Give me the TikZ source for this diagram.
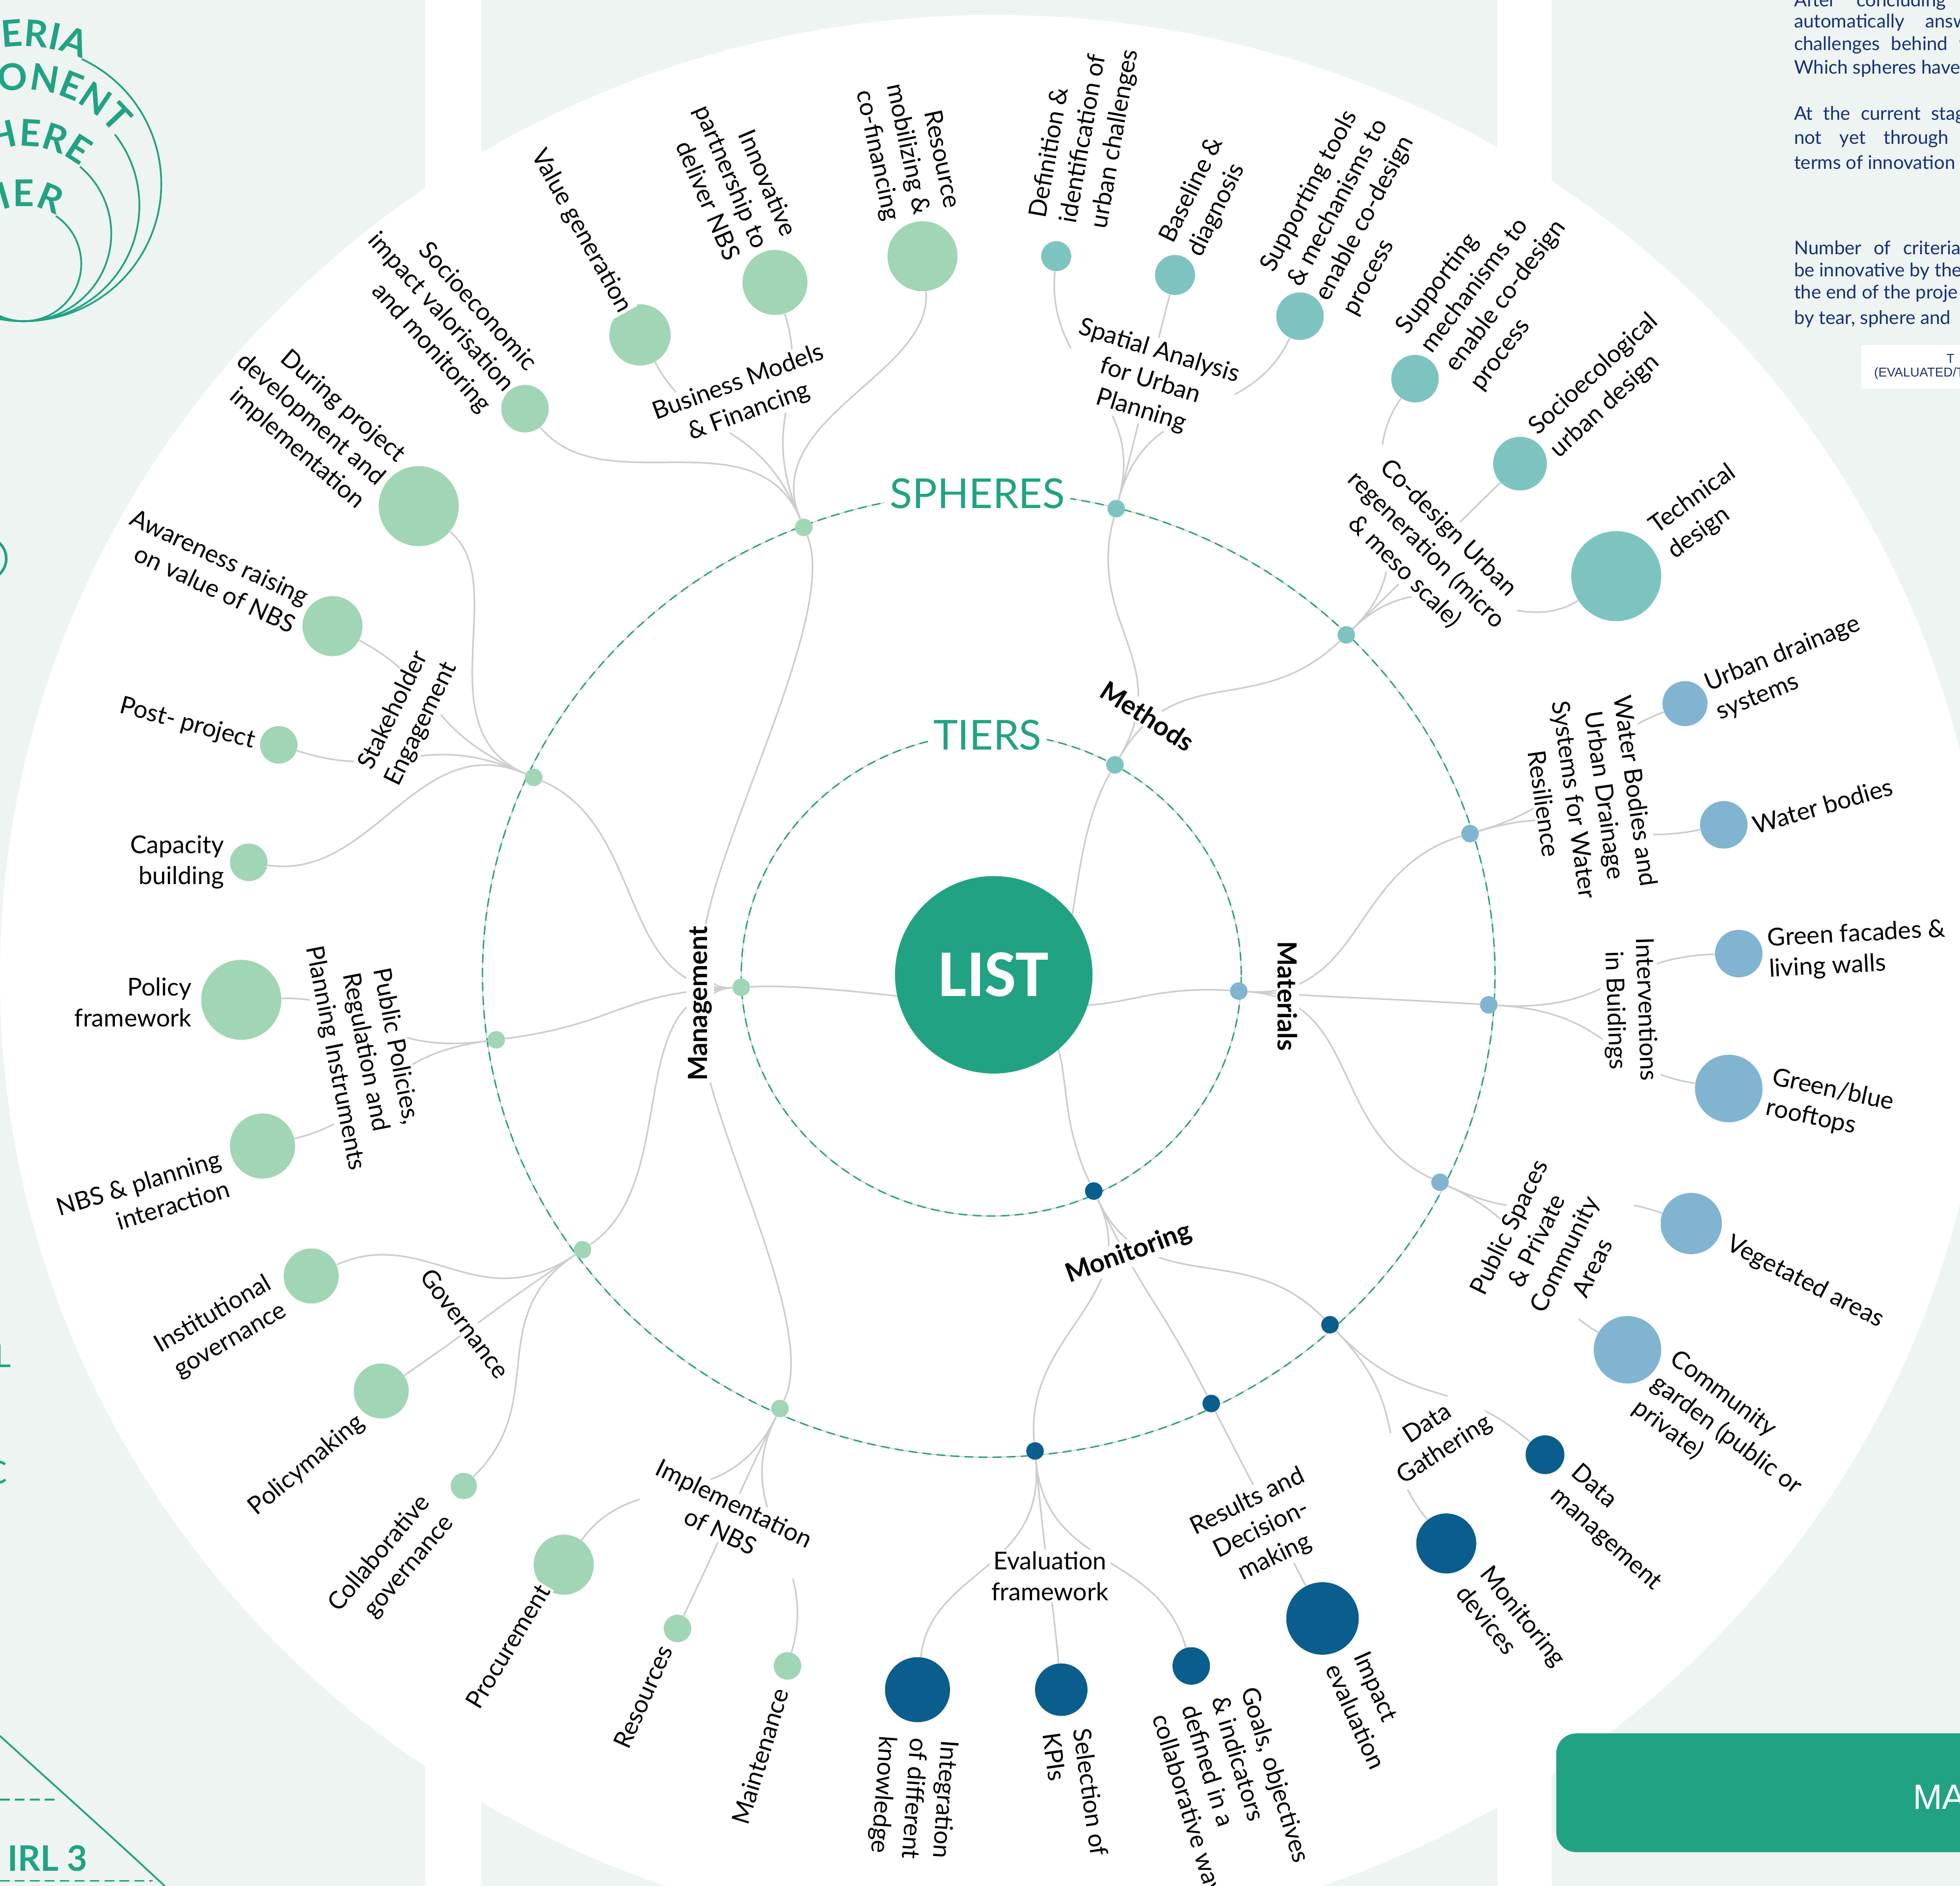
\documentclass[tikz,border=0pt]{standalone}
\usepackage{fontspec}
\setmainfont{Lato}
\newfontfamily\listfont{Carlito}
\newfontfamily\boxfont{Liberation Sans}
\usetikzlibrary{calc,decorations.text}

\definecolor{listgreen}{HTML}{21A383}
\definecolor{mgcol}{HTML}{A0D5B6}
\definecolor{mtcol}{HTML}{7DC4C1}
\definecolor{macol}{HTML}{81B4D0}
\definecolor{mocol}{HTML}{0A5E8D}
\definecolor{linkgray}{HTML}{CDCDCD}
\definecolor{panelbg}{HTML}{EEF4F2}
\definecolor{navy}{HTML}{16307A}

\newcommand\arcfont{\fontsize{21}{21}\selectfont\bfseries}

\newcommand\radlink[2]{%
  \draw[link] let \p1=($(#1)-(ctr)$), \p2=($(#2)-(ctr)$),
    \n1={(veclen(\x1,\y1)+veclen(\x2,\y2))/2} in
    (#1) .. controls ($(ctr)!\n1!(#1)$) and ($(ctr)!\n1!(#2)$) .. (#2);}
\newcommand\rootlink[1]{%
  \draw[link] let \p1=($(#1)-(ctr)$), \n1={veclen(\x1,\y1)/2} in
    (ctr) .. controls ($(ctr)+(-30:\n1)$) and ($(ctr)!\n1!(#1)$) .. (#1);}

\begin{document}
\begin{tikzpicture}[
  x=0.025cm, y=0.025cm,
  link/.style={draw=linkgray, line width=0.9pt},
  bubble/.style 2 args={circle, fill=#1, inner sep=0pt, minimum size=#2*0.05cm},
  lab/.style={font=\fontsize{14}{17.6}\selectfont, fill=white, inner sep=1pt, align=center},
  tier/.style={font=\fontsize{15}{18}\selectfont\bfseries, fill=white, inner sep=1pt},
  ringlab/.style={font=\fontsize{23.5}{24}\selectfont, text=listgreen, fill=white, inner sep=3pt},
  ring/.style={draw=listgreen, line width=0.8pt, dash pattern=on 5pt off 3pt},
  guide/.style={draw=black!18, line width=0.6pt},
  arcline/.style={draw=listgreen, line width=1pt},
  note/.style={font=\fontsize{10.7}{13}\selectfont, text=navy, anchor=west, inner sep=0pt},
  listdisc/.style={circle, fill=listgreen, text=white, inner sep=0pt, minimum size=158*0.025cm, font=\listfont\fontsize{38}{38}\selectfont\bfseries}
]
\useasboundingbox (0,0) rectangle (1568,-1509);
\clip (0,0) rectangle (1568,-1509);
\fill[panelbg] (0,0) rectangle (1568,-1509);
\fill[white] (340,0) rectangle (385,-1509);
\fill[white] (1198,0) rectangle (1241,-1509);
\fill[white] (795,-782) ellipse [x radius=795, y radius=770];

\draw[arcline] (19,-147) ++(65:110) arc[start angle=65, end angle=-115, radius=110];
\draw[arcline] (19,-164.5) ++(38:92.5) arc[start angle=38, end angle=-115, radius=92.5];
\draw[arcline] (19,-187) ++(50:70) arc[start angle=50, end angle=-115, radius=70];
\draw[arcline] (19,-211) ++(56:46) arc[start angle=56, end angle=-115, radius=46];
\path[decorate, decoration={text along path, text={|\arcfont|CRITERIA}, text align=right, text color=listgreen}]
  (19,-147) ++(180:110) arc[start angle=180, end angle=65, radius=110];
\path[decorate, decoration={text along path, text={|\arcfont|COMPONENT}, text align=right, text color=listgreen}]
  (19,-164.5) ++(200:92.5) arc[start angle=200, end angle=38, radius=92.5];
\path[decorate, decoration={text along path, text={|\arcfont|SPHERE}, text align=right, text color=listgreen}]
  (19,-187) ++(200:70) arc[start angle=200, end angle=50, radius=70];
\path[decorate, decoration={text along path, text={|\arcfont|TIER}, text align=right, text color=listgreen}]
  (19,-211) ++(220:46) arc[start angle=220, end angle=56, radius=46];
\draw[listgreen, line width=1.5pt] (-12,-447) circle [radius=17];
\node[font=\fontsize{18}{18}\selectfont, text=listgreen, anchor=base east, inner sep=0pt] (lfrag) at (9,-1094) {L};
\node[font=\fontsize{18}{18}\selectfont, text=listgreen, anchor=base east, inner sep=0pt] (cfrag) at (6,-1187) {C};
\draw[arcline] (0,-1389) .. controls (45,-1430) and (90,-1470) .. (136,-1513);
\draw[arcline, dash pattern=on 5.5pt off 3pt] (0,-1440) -- (47,-1440);
\draw[arcline, dash pattern=on 5.5pt off 3pt] (0,-1505) -- (122,-1505);
\node[font=\fontsize{20}{20}\selectfont\bfseries, text=listgreen] (irl) at (38,-1487) {IRL 3};

\node[note] (t1) at (1435,-1) {After\hspace{1.1em}concluding\hspace{1.1em}a};
\node[note] (t2) at (1435,-18) {automatically\hspace{1.1em}answ};
\node[note] (t3) at (1435,-36) {challenges\hspace{0.6em}behind\hspace{0.6em}w};
\node[note] (t4) at (1435,-55) {Which spheres have};
\node[note] (t5) at (1435,-92) {At\hspace{0.55em}the\hspace{0.55em}current\hspace{0.55em}stage};
\node[note] (t6) at (1435,-111) {not\hspace{0.95em}yet\hspace{0.95em}through\hspace{0.95em}the};
\node[note] (t7) at (1435,-130) {terms of innovation};
\node[note] (t8) at (1435,-198) {Number\hspace{0.65em}of\hspace{0.65em}criteria};
\node[note] (t9) at (1435,-217) {be innovative by the};
\node[note] (t10) at (1435,-235) {the end of the proje};
\node[note] (t11) at (1435,-255) {by tear, sphere and};
\fill[white] (1489,-276) rectangle (1568,-311);
\node[font=\boxfont\fontsize{7.3}{8}\selectfont, text=navy, anchor=west, inner sep=0pt] (bx1) at (1557,-287) {T};
\node[font=\boxfont\fontsize{7.3}{8}\selectfont, text=navy, anchor=west, inner sep=0pt] (bx2) at (1499,-299) {(EVALUATED/T};
\fill[listgreen, rounded corners=0.4cm] (1245,-1387) rectangle (1640,-1482);
\node[font=\boxfont\fontsize{20}{20}\selectfont, text=white, anchor=west, inner sep=0pt] (matitle) at (1530,-1438) {MA};

\coordinate (ctr) at (793,-780);
\draw[guide] (791,-780) ellipse [x radius=405, y radius=386];
\draw[ring] (791,-780) ellipse [x radius=405, y radius=386];
\draw[guide] (793,-780) ellipse [x radius=200, y radius=193];
\draw[ring] (793,-780) ellipse [x radius=200, y radius=193];
\node[ringlab] (spheres) at (782,-395) {SPHERES};
\node[ringlab] (tiers) at (790,-588) {TIERS};

\node[bubble={mgcol}{7}] (mgmt) at (593,-790) {};
\node[bubble={mtcol}{7}] (meth) at (892,-612) {};
\node[bubble={macol}{7}] (matr) at (991,-793) {};
\node[bubble={mocol}{7}] (moni) at (875,-953) {};

\node[bubble={mgcol}{7}] (bmf) at (643,-422) {};
\node[bubble={mgcol}{7}] (stk) at (427,-622) {};
\node[bubble={mgcol}{7}] (ppr) at (397,-832) {};
\node[bubble={mgcol}{7}] (gov) at (466,-1000) {};
\node[bubble={mgcol}{7}] (imp) at (624,-1127) {};
\node[bubble={mtcol}{7}] (spa) at (893,-407) {};
\node[bubble={mtcol}{7}] (cod) at (1077,-508) {};
\node[bubble={macol}{7}] (wat) at (1176,-667) {};
\node[bubble={macol}{7}] (inb) at (1191,-804) {};
\node[bubble={macol}{7}] (pub) at (1152,-946) {};
\node[bubble={mocol}{7}] (dat) at (1064,-1060) {};
\node[bubble={mocol}{7}] (res) at (969,-1123) {};
\node[bubble={mocol}{7}] (evf) at (828,-1161) {};

\node[bubble={mgcol}{19}] (socio) at (420,-327) {};
\node[bubble={mgcol}{24.5}] (valgen) at (512,-268) {};
\node[bubble={mgcol}{26}] (innov) at (620,-226) {};
\node[bubble={mgcol}{28}] (resmob) at (738,-205) {};
\node[bubble={mgcol}{32}] (during) at (335,-405) {};
\node[bubble={mgcol}{24}] (aware) at (266,-501) {};
\node[bubble={mgcol}{15}] (post) at (223,-596) {};
\node[bubble={mgcol}{15}] (capac) at (199,-690) {};
\node[bubble={mgcol}{32}] (polfw) at (193,-800) {};
\node[bubble={mgcol}{26}] (nbspl) at (210,-917) {};
\node[bubble={mgcol}{22}] (inst) at (249,-1021) {};
\node[bubble={mgcol}{22}] (polmk) at (305,-1113) {};
\node[bubble={mgcol}{10.5}] (collab) at (371,-1189) {};
\node[bubble={mgcol}{24}] (procur) at (451,-1252) {};
\node[bubble={mgcol}{11}] (resour) at (542,-1303) {};
\node[bubble={mgcol}{11}] (maint) at (630,-1333) {};
\node[bubble={mtcol}{12}] (defin) at (845,-205) {};
\node[bubble={mtcol}{16}] (basel) at (940,-220) {};
\node[bubble={mtcol}{19}] (suptool) at (1040,-253) {};
\node[bubble={mtcol}{19}] (supmech) at (1132,-303) {};
\node[bubble={mtcol}{21.5}] (socioeco) at (1216,-371) {};
\node[bubble={mtcol}{36}] (techn) at (1293,-461) {};
\node[bubble={macol}{18}] (udrain) at (1348,-563) {};
\node[bubble={macol}{19}] (wbod) at (1379,-660) {};
\node[bubble={macol}{19}] (gfac) at (1391,-763) {};
\node[bubble={macol}{27}] (gblue) at (1383,-871) {};
\node[bubble={macol}{24.5}] (veg) at (1353,-979) {};
\node[bubble={macol}{27}] (comgar) at (1302,-1080) {};
\node[bubble={mocol}{15.5}] (dman) at (1236,-1164) {};
\node[bubble={mocol}{24}] (mondev) at (1157,-1235) {};
\node[bubble={mocol}{29}] (impev) at (1058,-1295) {};
\node[bubble={mocol}{15}] (goals) at (953,-1333) {};
\node[bubble={mocol}{21}] (kpis) at (849,-1352) {};
\node[bubble={mocol}{26}] (integ) at (734,-1352) {};

\rootlink{mgmt}
\rootlink{meth}
\rootlink{matr}
\rootlink{moni}
\radlink{mgmt}{bmf}
\radlink{mgmt}{stk}
\radlink{mgmt}{ppr}
\radlink{mgmt}{gov}
\radlink{mgmt}{imp}
\radlink{meth}{spa}
\radlink{meth}{cod}
\radlink{matr}{wat}
\radlink{matr}{inb}
\radlink{matr}{pub}
\radlink{moni}{dat}
\radlink{moni}{res}
\radlink{moni}{evf}
\radlink{bmf}{socio}
\radlink{bmf}{valgen}
\radlink{bmf}{innov}
\radlink{bmf}{resmob}
\radlink{stk}{during}
\radlink{stk}{aware}
\radlink{stk}{post}
\radlink{stk}{capac}
\radlink{ppr}{polfw}
\radlink{ppr}{nbspl}
\radlink{gov}{inst}
\radlink{gov}{polmk}
\radlink{gov}{collab}
\radlink{imp}{procur}
\radlink{imp}{resour}
\radlink{imp}{maint}
\radlink{spa}{defin}
\radlink{spa}{basel}
\radlink{spa}{suptool}
\radlink{cod}{supmech}
\radlink{cod}{socioeco}
\radlink{cod}{techn}
\radlink{wat}{udrain}
\radlink{wat}{wbod}
\radlink{inb}{gfac}
\radlink{inb}{gblue}
\radlink{pub}{veg}
\radlink{pub}{comgar}
\radlink{dat}{dman}
\radlink{dat}{mondev}
\radlink{res}{impev}
\radlink{evf}{integ}
\radlink{evf}{kpis}
\radlink{evf}{goals}

\node[tier, rotate=90] (mgmt-l) at (560,-803) {Management};
\node[tier, rotate=-33] (meth-l) at (918,-573) {Methods};
\node[tier, rotate=-90] (matr-l) at (1030,-797) {Materials};
\node[tier, rotate=20] (moni-l) at (903,-1003) {Monitoring};

\node[lab, rotate=20] (bmf-l) at (595,-318) {Business Models\\\& Financing};
\node[lab, rotate=-17] (spa-l) at (920,-305) {Spatial Analysis\\for Urban\\Planning};
\node[lab, rotate=-45] (cod-l) at (1141,-440) {Co-design Urban\\regeneration (micro\\\& meso scale)};
\node[lab, rotate=-82] (wat-l) at (1272,-638) {Water Bodies and\\Urban Drainage\\Systems for Water\\Resilience};
\node[lab, rotate=-88] (inb-l) at (1304,-808) {Interventions\\in Buidings};
\node[lab, rotate=64] (pub-l) at (1240,-998) {Public Spaces\\\& Private\\Community\\Areas};
\node[lab, rotate=33] (dat-l) at (1149,-1150) {Data\\Gathering};
\node[lab, rotate=26] (res-l) at (1009,-1224) {Results and\\Decision-\\making};
\node[lab] (evf-l) at (840,-1261) {Evaluation\\framework};
\node[lab, rotate=-26] (imp-l) at (582,-1214) {Implementation\\of NBS};
\node[lab, rotate=-53] (gov-l) at (372,-1059) {Governance};
\node[lab, rotate=-79] (ppr-l) at (292,-842) {Public Policies,\\Regulation and\\Planning Instruments};
\node[lab, rotate=64] (stk-l) at (326,-574) {Stakeholder\\Engagement};

\node[lab, align=right, anchor=east, rotate=-48] (socio-l) at (408,-312) {Socioeconomic\\impact valorisation\\and monitoring};
\node[lab, align=right, anchor=east, rotate=-61] (valgen-l) at (501,-250) {Value generation};
\node[lab, align=right, anchor=east, rotate=-67] (innov-l) at (610,-199) {Innovative\\partnership to\\deliver NBS};
\node[lab, align=right, anchor=east, rotate=-78] (resmob-l) at (737,-173) {Resource\\mobilizing \&\\co-financing};
\node[lab, align=right, anchor=east, rotate=-41] (during-l) at (306,-386) {During project\\development and\\implementation};
\node[lab, align=right, anchor=east, rotate=-25] (aware-l) at (242,-490) {Awareness raising\\on value of NBS};
\node[lab, align=right, anchor=east, rotate=-15] (post-l) at (205,-594) {Post- project};
\node[lab, align=right, anchor=east] (capac-l) at (181,-690) {Capacity\\building};
\node[lab, align=right, anchor=east] (polfw-l) at (155,-802) {Policy\\framework};
\node[lab, align=right, anchor=east, rotate=17] (nbspl-l) at (181,-938) {NBS \& planning\\interaction};
\node[lab, align=right, anchor=east, rotate=30] (inst-l) at (223,-1036) {Institutional\\governance};
\node[lab, align=right, anchor=east, rotate=40] (polmk-l) at (290,-1135) {Policymaking};
\node[lab, align=right, anchor=east, rotate=50] (collab-l) at (351,-1206) {Collaborative\\governance};
\node[lab, align=right, anchor=east, rotate=59] (procur-l) at (436,-1268) {Procurement};
\node[lab, align=right, anchor=east, rotate=66] (resour-l) at (533,-1316) {Resources};
\node[lab, align=right, anchor=east, rotate=73] (maint-l) at (625,-1350) {Maintenance};

\node[lab, align=left, anchor=west, rotate=80] (defin-l) at (855,-180) {Definition \&\\identification of\\urban challenges};
\node[lab, align=left, anchor=west, rotate=64] (basel-l) at (944,-200) {Baseline \&\\diagnosis};
\node[lab, align=left, anchor=west, rotate=62] (suptool-l) at (1046,-235) {Supporting tools\\\& mechanisms to\\enable co-design\\process};
\node[lab, align=left, anchor=west, rotate=53] (supmech-l) at (1150,-289) {Supporting\\mechanisms to\\enable co-design\\process};
\node[lab, align=left, anchor=west, rotate=43] (socioeco-l) at (1234,-355) {Socioecological\\urban design};
\node[lab, align=left, anchor=west, rotate=36] (techn-l) at (1328,-434) {Technical\\design};

\node[lab, align=left, anchor=west, rotate=22] (udrain-l) at (1368,-560) {Urban drainage\\systems};
\node[lab, align=left, anchor=west, rotate=16] (wbod-l) at (1401,-661) {Water bodies};
\node[lab, align=left, anchor=west, rotate=3] (gfac-l) at (1413,-764) {Green facades \&\\living walls};
\node[lab, align=left, anchor=west, rotate=-12] (gblue-l) at (1414,-874) {Green/blue\\rooftops};
\node[lab, align=left, anchor=west, rotate=-27] (veg-l) at (1381,-994) {Vegetated areas};
\node[lab, align=left, anchor=west, rotate=-37] (comgar-l) at (1322,-1104) {Community\\garden (public or\\private)};

\node[lab, align=left, anchor=west, rotate=-42] (dman-l) at (1250,-1184) {Data\\management};
\node[lab, align=left, anchor=west, rotate=-51] (mondev-l) at (1178,-1262) {Monitoring\\devices};
\node[lab, align=left, anchor=west, rotate=-66] (impev-l) at (1077,-1326) {Impact\\evaluation};
\node[lab, align=left, anchor=west, rotate=-73] (goals-l) at (962,-1360) {Goals, objectives\\\& indicators\\defined in a\\collaborative way};
\node[lab, align=left, anchor=west, rotate=-82] (kpis-l) at (853,-1383) {Selection of\\KPIs};
\node[lab, align=left, anchor=west, rotate=-94] (integ-l) at (734,-1389) {Integration\\of different\\knowledge};

\node[listdisc] (list) at (795,-780) {LIST};
\end{tikzpicture}
\end{document}
